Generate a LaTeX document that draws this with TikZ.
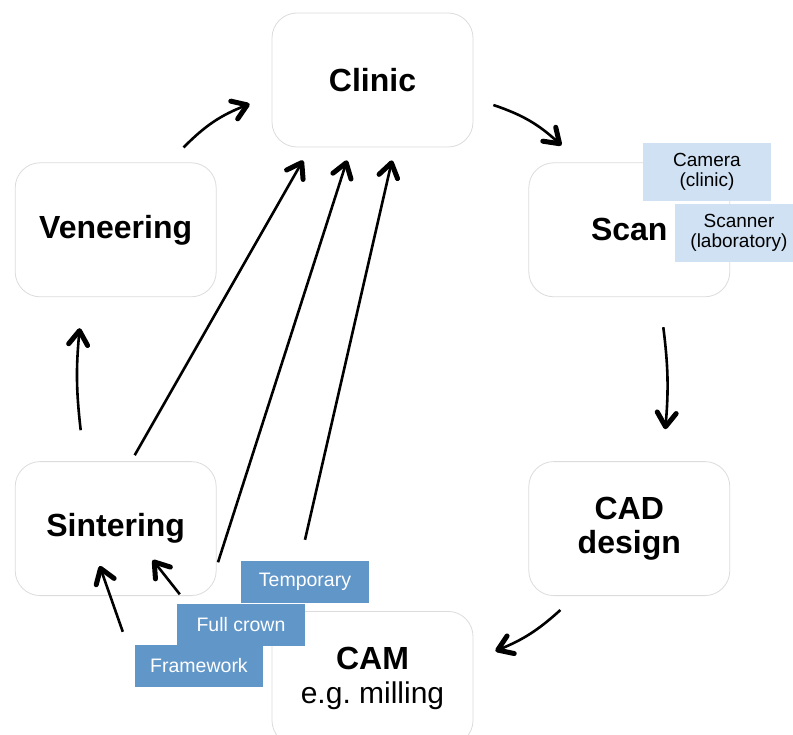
\documentclass[tikz,border=0pt]{standalone}
\usepackage{fontspec}
\setmainfont{Liberation Sans}
\usetikzlibrary{
  arrows.meta,
  positioning,
}
\tikzstyle{flow} = [
  -{Straight Barb[length=14pt, width=19pt, line width=5pt, round]},
  line width=2.6pt,
  black,
]
\definecolor{tagblue}{RGB}{97, 150, 201}
\definecolor{noteblue}{RGB}{207, 225, 243}
\definecolor{framegray}{RGB}{220, 220, 220}

\begin{document}
\begin{tikzpicture}[
      x=1pt, y=-1pt,
      node distance=15pt and 55pt,
      stage/.style={rectangle, draw=framegray, line width=0.8pt, rounded corners=25pt,
        minimum width=201pt, minimum height=134pt, inner sep=0pt, align=center,
        font=\fontsize{32}{34}\selectfont\bfseries},
      tag/.style={rectangle, fill=tagblue, text=white, minimum width=128pt, minimum height=42pt,
        inner sep=0pt, font=\fontsize{19.5}{21}\selectfont},
      note/.style={rectangle, fill=noteblue, minimum width=128pt, minimum height=58pt,
        inner sep=0pt, align=center, font=\fontsize{19}{20}\selectfont},
    ]
      \clip (0,0) rectangle (793,735);
      \fill [white] (0,0) rectangle (793,735);
      % stages of the cycle
      \node [stage] (clinic) at (372.5,80) {Clinic};
      \node [stage, below left=of clinic] (veneering) {Veneering};
      \node [stage, below right=of clinic] (scan) {Scan};
      \node [stage, below=164pt of veneering] (sintering) {Sintering};
      \node [stage, below=164pt of scan] (cad) {CAD\\design};
      \node [stage, below right=of sintering] (cam) {CAM\\{\mdseries\fontsize{30}{34}\selectfont e.g.\ milling}};
      % side notes
      \node [note] (camera) at (707,172) {Camera\\(clinic)};
      \node [note] (scanner) at (739,233) {Scanner\\(laboratory)};
      \node [tag] (temporary) at (305,582) {Temporary};
      \node [tag] (fullcrown) at (241,624.5) {Full crown};
      \node [tag] (framework) at (199,666) {Framework};
      % cycle
      \draw [flow] ([xshift=-33pt, yshift=15pt]veneering.north east) to [bend left=12] ([xshift=-22pt, yshift=-24pt]clinic.west);
      \draw [flow] ([xshift=20pt, yshift=-25pt]clinic.east) to [bend left=12] ([xshift=33pt, yshift=17pt]scan.north west);
      \draw [flow] ([xshift=34pt, yshift=-30pt]scan.south) to [bend left=6] ([xshift=36pt, yshift=32pt]cad.north);
      \draw [flow] ([xshift=32pt, yshift=-14pt]cad.south west) to [bend left=10] ([xshift=22pt, yshift=-40pt]cam.north east);
      \draw [flow] ([xshift=-35pt, yshift=31pt]sintering.north) to [bend left=6] ([xshift=-36pt, yshift=-31pt]veneering.south);
      % products
      \draw [flow] ([xshift=-12pt, yshift=13pt]framework.north west) -- ([xshift=-16pt, yshift=30pt]sintering.south);
      \draw [flow] ([xshift=3pt, yshift=9pt]fullcrown.north west) -- ([xshift=37pt, yshift=36pt]sintering.south);
      \draw [flow] ([xshift=19pt, yshift=6pt]sintering.north) -- ([xshift=-69.5pt, yshift=-13pt]clinic.south);
      \draw [flow] ([xshift=-23pt, yshift=41pt]fullcrown.north) -- ([xshift=-25.5pt, yshift=-13pt]clinic.south);
      \draw [flow] ([yshift=21pt]temporary.north) -- ([xshift=19.5pt, yshift=-13pt]clinic.south);
\end{tikzpicture}
\end{document}
